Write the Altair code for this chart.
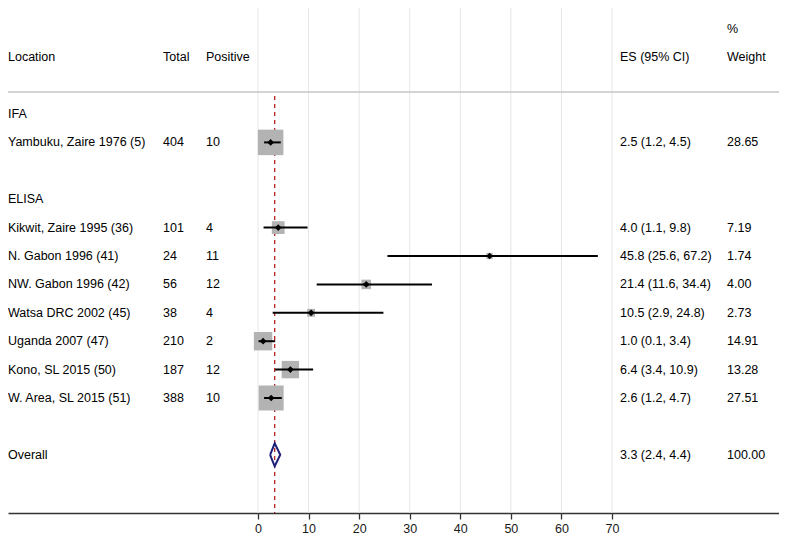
import altair as alt
import pandas as pd

# ---- data ----
locations = ["Yambuku, Zaire 1976 (5)", "Kikwit, Zaire 1995 (36)", "N. Gabon 1996 (41)",
             "NW. Gabon 1996 (42)", "Watsa DRC 2002 (45)", "Uganda 2007 (47)",
             "Kono, SL 2015 (50)", "W. Area, SL 2015 (51)"]
totals = [404, 101, 24, 56, 38, 210, 187, 388]
positives = [10, 4, 11, 12, 4, 2, 12, 10]
es = [2.5, 4.0, 45.8, 21.4, 10.5, 1.0, 6.4, 2.6]
lo = [1.2, 1.1, 25.6, 11.6, 2.9, 0.1, 3.4, 1.2]
hi = [4.5, 9.8, 67.2, 34.4, 24.8, 3.4, 10.9, 4.7]
weights = [28.65, 7.19, 1.74, 4.00, 2.73, 14.91, 13.28, 27.51]
study_rows = [2, 5, 6, 7, 8, 9, 10, 11]

group_names = ["IFA", "ELISA"]
group_rows = [1, 4]

overall_label = "Overall"
overall_row = 13
overall_es, overall_lo, overall_hi, overall_w = 3.3, 2.4, 4.4, 100.00

x_ticks = [0, 10, 20, 30, 40, 50, 60, 70]

header_texts = ["Location", "Total", "Positive", "ES (95% CI)", "%", "Weight"]
header_rows = [-1, -1, -1, -1, -2, -1]

# ---- layout ----
W, H = 771, 505
PX_PER_UNIT = 354 / 70.0
X0 = 250  # chart px of value 0
x_domain = [-X0 / PX_PER_UNIT, (W - X0) / PX_PER_UNIT]
ROW_H = 28.4
y_top = 1 - 106 / ROW_H
y_bot = 1 + (H - 106) / ROW_H
y_domain = [y_top, y_bot]
header_px = [0, 155, 198, 612, 719, 719]

FONT = "Liberation Sans"
FS = 12.5

xs = alt.Scale(domain=x_domain, nice=False, zero=False)
ys = alt.Scale(domain=y_domain, nice=False, zero=False, reverse=True)
AX = alt.Axis(
    values=x_ticks, title=None, grid=False, domainColor="#333333", domainWidth=1.5,
    ticks=True, tickColor="#333333", tickWidth=1.3, tickSize=6, labelFont=FONT, labelFontSize=FS,
    labelColor="#1a1a1a", labelPadding=3, format="d",
)

studies = pd.DataFrame({
    "loc": locations, "total": totals, "pos": positives, "es": es, "lo": lo, "hi": hi,
    "w": weights, "row": study_rows,
})
studies["es_txt"] = [f"{a:.1f} ({b:.1f}, {c:.1f})" for a, b, c in zip(es, lo, hi)]
studies["w_txt"] = [f"{v:.2f}" for v in weights]

groups = pd.DataFrame({"name": group_names, "row": group_rows})

overall = pd.DataFrame({
    "loc": [overall_label], "row": [overall_row],
    "es_txt": [f"{overall_es:.1f} ({overall_lo:.1f}, {overall_hi:.1f})"],
    "w_txt": [f"{overall_w:.2f}"],
})
dh = 0.405
diamond = pd.DataFrame({
    "x": [overall_lo, overall_es, overall_hi, overall_es, overall_lo],
    "y": [overall_row, overall_row - dh, overall_row, overall_row + dh, overall_row],
    "o": [0, 1, 2, 3, 4],
})

# grid lines (full height) + x axis
grid = alt.Chart(pd.DataFrame({"x": x_ticks})).mark_rule(color="#e6e6e6", strokeWidth=1).encode(
    x=alt.X("x:Q", scale=xs, axis=AX), y=alt.value(0), y2=alt.value(H)
)

# header separator line
hline = alt.Chart(pd.DataFrame({"a": [0]})).mark_rule(color="#c4c4c4", strokeWidth=1.5).encode(
    x=alt.value(0), x2=alt.value(W), y=alt.value(84)
)

# reference dashed line at overall ES
ref = alt.Chart(pd.DataFrame({"x": [overall_es]})).mark_rule(
    color="#b22222", strokeDash=[4, 4], strokeWidth=1.3
).encode(x=alt.X("x:Q", scale=xs, axis=AX), y=alt.value(88), y2=alt.value(H))

boxes = alt.Chart(studies).mark_square(color="#b3b3b3", opacity=1).encode(
    x=alt.X("es:Q", scale=xs, axis=AX),
    y=alt.Y("row:Q", scale=ys, axis=None),
    size=alt.Size("w:Q", scale=alt.Scale(domain=[0, 100], range=[0, 2270], zero=True), legend=None),
)

ci = alt.Chart(studies).mark_rule(color="black", strokeWidth=2).encode(
    x=alt.X("lo:Q", scale=xs, axis=AX), x2="hi:Q",
    y=alt.Y("row:Q", scale=ys, axis=None),
)

pts = alt.Chart(studies).mark_point(shape="diamond", filled=True, color="black", size=45, opacity=1).encode(
    x=alt.X("es:Q", scale=xs, axis=AX),
    y=alt.Y("row:Q", scale=ys, axis=None),
)

diam = alt.Chart(diamond).mark_line(color="#1f1f7a", strokeWidth=2).encode(
    x=alt.X("x:Q", scale=xs, axis=AX),
    y=alt.Y("y:Q", scale=ys, axis=None),
    order="o:Q",
)


def txt(df, field, px):
    return alt.Chart(df).mark_text(align="left", baseline="middle", font=FONT, fontSize=FS, color="black").encode(
        x=alt.value(px), y=alt.Y("row:Q", scale=ys, axis=None), text=f"{field}:N"
    )


hdr_layers = []
for t, r, p in zip(header_texts, header_rows, header_px):
    hdr_layers.append(txt(pd.DataFrame({"t": [t], "row": [r]}), "t", p))

text_layers = [
    txt(groups, "name", 0),
    txt(studies, "loc", 0), txt(studies, "total", 155), txt(studies, "pos", 198),
    txt(studies, "es_txt", 612), txt(studies, "w_txt", 719),
    txt(overall, "loc", 0), txt(overall, "es_txt", 612), txt(overall, "w_txt", 719),
]

chart = alt.layer(
    grid, hline, ref, boxes, ci, pts, diam, *hdr_layers, *text_layers
).properties(
    width=W, height=H, autosize=alt.AutoSizeParams(type="none"),
    padding={"left": 0, "top": 0, "right": 0, "bottom": 30},
    background="white",
).configure_view(stroke=None)

chart.save("out.html", embed_options={"renderer": "svg", "actions": False})
